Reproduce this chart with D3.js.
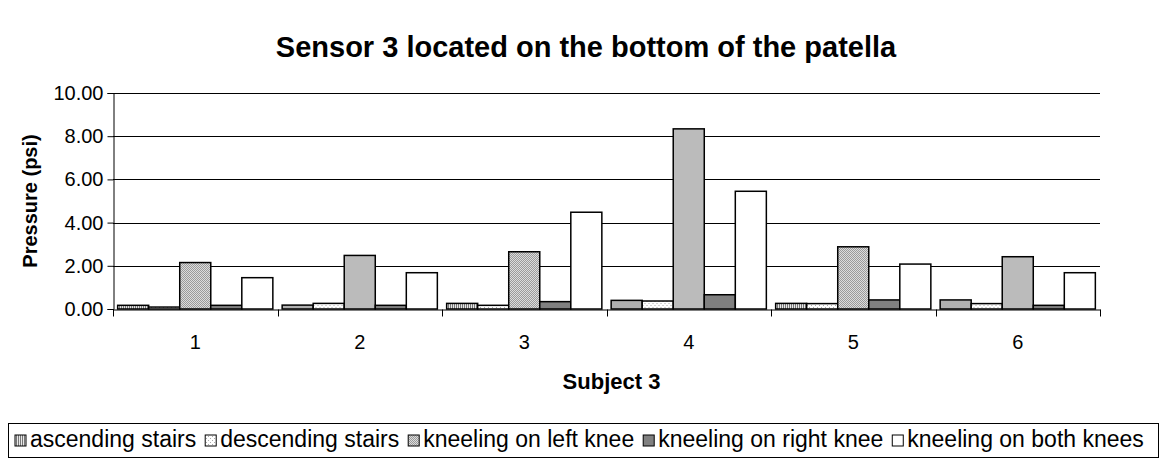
<!DOCTYPE html>
<html>
<head>
<meta charset="utf-8">
<script src="https://cdn.jsdelivr.net/npm/d3@7"></script>
<style>
  body { margin: 0; background: #fff; }
  svg { display: block; font-family: "Liberation Sans", Arial, sans-serif; }
</style>
</head>
<body>
<div id="chart"></div>
<script>
// data
const subjects = ["1", "2", "3", "4", "5", "6"];
const seriesNames = ["ascending stairs", "descending stairs", "kneeling on left knee", "kneeling on right knee", "kneeling on both knees"];
const ascending = [0.17, 0.18, 0.26, 0.40, 0.26, 0.42];
const descending = [0.09, 0.26, 0.17, 0.37, 0.25, 0.25];
const leftKnee = [2.15, 2.48, 2.65, 8.34, 2.88, 2.42];
const rightKnee = [0.17, 0.17, 0.34, 0.66, 0.42, 0.17];
const bothKnees = [1.45, 1.68, 4.48, 5.45, 2.08, 1.68];
const yTicks = [0, 2, 4, 6, 8, 10];

const seriesValues = [ascending, descending, leftKnee, rightKnee, bothKnees];
const fills = ["url(#pAsc)", "url(#pDesc)", "url(#pLeft)", "#808080", "#ffffff"];

const width = 1170, height = 460;
const margin = { top: 93, right: 70, bottom: 151, left: 113 };
const w = width - margin.left - margin.right;
const h = height - margin.top - margin.bottom;

const svg = d3.select("#chart").append("svg")
  .attr("width", width)
  .attr("height", height);

// fill patterns
const defs = svg.append("defs");
const pAsc = defs.append("pattern").attr("id", "pAsc").attr("patternUnits", "userSpaceOnUse")
  .attr("width", 2).attr("height", 2);
pAsc.append("rect").attr("width", 2).attr("height", 2).attr("fill", "#e8e8e8");
pAsc.append("rect").attr("width", 1).attr("height", 2).attr("fill", "#777");
const pDesc = defs.append("pattern").attr("id", "pDesc").attr("patternUnits", "userSpaceOnUse")
  .attr("width", 4).attr("height", 4);
pDesc.append("rect").attr("width", 4).attr("height", 4).attr("fill", "#fff");
pDesc.append("rect").attr("x", 0).attr("y", 0).attr("width", 1).attr("height", 1).attr("fill", "#aaa");
pDesc.append("rect").attr("x", 2).attr("y", 2).attr("width", 1).attr("height", 1).attr("fill", "#aaa");
const pLeft = defs.append("pattern").attr("id", "pLeft").attr("patternUnits", "userSpaceOnUse")
  .attr("width", 2).attr("height", 2);
pLeft.append("rect").attr("width", 2).attr("height", 2).attr("fill", "#dcdcdc");
pLeft.append("rect").attr("x", 0).attr("y", 0).attr("width", 1).attr("height", 1).attr("fill", "#9a9a9a");
pLeft.append("rect").attr("x", 1).attr("y", 1).attr("width", 1).attr("height", 1).attr("fill", "#9a9a9a");

// title
svg.append("text")
  .attr("x", 586).attr("y", 57)
  .attr("text-anchor", "middle")
  .style("font-size", "29px").style("font-weight", "bold")
  .text("Sensor 3 located on the bottom of the patella");

const g = svg.append("g").attr("transform", `translate(${margin.left},${margin.top})`);

const x0 = d3.scaleBand().domain(subjects).range([0, w]).paddingInner(0).paddingOuter(0);
const x1 = d3.scaleBand().domain(d3.range(seriesNames.length))
  .range([0, x0.bandwidth()]).paddingInner(0).paddingOuter(0.15);
const y = d3.scaleLinear().domain([0, 10]).range([h, 0]);

// gridlines
g.append("g")
  .selectAll("line")
  .data(yTicks.filter(d => d > 0))
  .enter().append("line")
  .attr("x1", 0).attr("x2", w)
  .attr("y1", d => Math.round(y(d)) + 0.5).attr("y2", d => Math.round(y(d)) + 0.5)
  .attr("stroke", "#000").attr("stroke-width", 1);

// bars
const groups = g.append("g").selectAll("g")
  .data(subjects)
  .enter().append("g")
  .attr("transform", d => `translate(${x0(d)},0)`);
groups.selectAll("rect")
  .data((d, i) => seriesValues.map((s, k) => ({ k: k, v: s[i] })))
  .enter().append("rect")
  .attr("x", d => x1(d.k))
  .attr("y", d => y(d.v))
  .attr("width", x1.bandwidth())
  .attr("height", d => h - y(d.v))
  .attr("fill", d => fills[d.k])
  .attr("stroke", "#000")
  .attr("stroke-width", 1.5);

// y axis
const yAxis = g.append("g")
  .attr("transform", "translate(0.5,0)")
  .call(d3.axisLeft(y).tickValues(yTicks).tickFormat(d3.format(".2f")).tickSize(6).tickPadding(4));
yAxis.select(".domain").attr("stroke", "#000");
yAxis.selectAll("text").style("font-size", "20px").attr("fill", "#000");

// x axis
const xAxis = g.append("g")
  .attr("transform", `translate(0,${Math.round(h) + 0.5})`)
  .call(d3.axisBottom(x0).tickSize(0).tickPadding(25));
xAxis.select(".domain").attr("stroke", "#000");
xAxis.selectAll("text").style("font-size", "20px").attr("fill", "#000");
xAxis.selectAll(".sep")
  .data(d3.range(subjects.length + 1))
  .enter().append("line")
  .attr("class", "sep")
  .attr("x1", d => Math.round(d * x0.step()) + 0.5).attr("x2", d => Math.round(d * x0.step()) + 0.5)
  .attr("y1", 0).attr("y2", 7)
  .attr("stroke", "#000");

// axis titles
svg.append("text")
  .attr("transform", `translate(37,${margin.top + h / 2}) rotate(-90)`)
  .attr("text-anchor", "middle")
  .style("font-size", "20px").style("font-weight", "bold")
  .text("Pressure (psi)");
svg.append("text")
  .attr("x", margin.left + w / 2 + 5).attr("y", 389)
  .attr("text-anchor", "middle")
  .style("font-size", "22px").style("font-weight", "bold")
  .text("Subject 3");

// legend
const legend = svg.append("g");
legend.append("rect")
  .attr("x", 8.5).attr("y", 423.5).attr("width", 1150).attr("height", 34)
  .attr("fill", "#fff").attr("stroke", "#000");
let lx = 15;
seriesNames.forEach((name, k) => {
  legend.append("rect")
    .attr("x", lx).attr("y", 435).attr("width", 11).attr("height", 11)
    .attr("fill", fills[k]).attr("stroke", "#000").attr("stroke-width", 1);
  const t = legend.append("text")
    .attr("x", lx + 15).attr("y", 447)
    .style("font-size", "23px")
    .text(name);
  lx += 15 + t.node().getComputedTextLength() + 9;
});
</script>
</body>
</html>
